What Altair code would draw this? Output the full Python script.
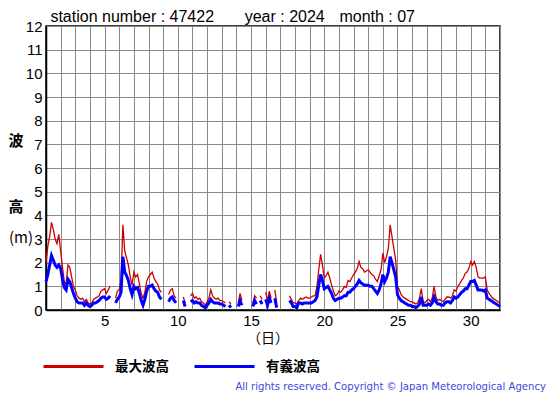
import altair as alt
import pandas as pd

# 3-hourly readings, day 1 00h ... day 31 21h, then Aug 1 00h
max_wave = [
    2.0, 2.7, 3.1, 3.7, 3.4, 3.0, 2.8, 3.2,        # 1
    2.5, 1.8, 1.2, 1.1, 1.9, 1.8, 1.4, 1.0,        # 2
    0.85, 0.6, 0.5, 0.45, 0.5, 0.35, 0.45, 0.3,    # 3
    0.25, 0.3, 0.45, 0.5, 0.55, 0.6, 0.8, 0.85,    # 4
    0.9, 0.7, 0.85, 1.0, None, None, 0.5, 0.8,     # 5
    0.85, 1.3, 3.6, 2.5, 2.2, 1.9, 1.4, 1.05,      # 6
    1.6, 1.4, 1.5, 1.1, 0.7, 0.5, 0.75, 1.2,       # 7
    1.4, 1.5, 1.6, 1.35, 1.2, 1.1, 0.85, 0.75,     # 8
    None, None, None, 0.65, 0.85, 0.9, 0.6, 0.5,   # 9
    None, None, None, 0.55, 0.3, None, None, 0.6,  # 10
    0.7, 0.5, 0.55, 0.45, 0.5, 0.35, 0.3, 0.2,     # 11
    0.35, 0.5, 0.85, 0.6, 0.5, 0.45, 0.5, 0.4,     # 12
    0.4, 0.35, 0.3, None, 0.35, 0.25, None, None,  # 13
    None, 0.3, 0.7, 0.4, None, None, None, None,   # 14
    None, 0.3, 0.6, 0.5, None, 0.6, 0.45, None,    # 15
    0.75, 0.4, 0.8, 0.5, None, 0.85, 0.3, None,    # 16
    None, None, None, None, None, 0.6, 0.45, 0.3,  # 17
    0.3, 0.25, 0.4, 0.5, 0.45, 0.5, 0.55, 0.5,     # 18
    0.5, 0.55, 0.6, 0.6, 1.0, 1.7, 2.35, 1.9,      # 19
    1.35, 1.45, 1.6, 1.35, 1.05, 0.8, 0.6, 0.65,   # 20
    0.8, 0.75, 0.85, 1.0, 0.95, 1.25, 1.2, 1.35,   # 21
    1.5, 1.6, 1.75, 2.05, 1.8, 1.75, 1.6, 1.65,    # 22
    1.7, 1.6, 1.5, 1.45, 1.3, 1.2, 1.45, 1.7,      # 23
    2.4, 2.0, 2.25, 2.6, 3.6, 3.1, 2.6, 2.1,       # 24
    1.0, 0.85, 0.65, 0.55, 0.5, 0.45, 0.4, 0.35,   # 25
    0.35, 0.3, 0.25, 0.3, 0.5, 0.9, 0.35, 0.3,     # 26
    0.4, 0.45, 0.35, 0.5, 1.0, 0.55, 0.4, 0.45,    # 27
    0.4, 0.35, 0.45, 0.55, 0.55, 0.5, 0.6, 0.85,   # 28
    0.8, 1.0, 1.1, 1.25, 1.35, 1.55, 1.6, 1.75,    # 29
    2.05, 1.9, 2.05, 1.8, 1.4, 1.35, 1.35, 1.35,   # 30
    1.4, 0.85, 0.7, 0.6, 0.5, 0.45, 0.4, 0.35,     # 31
    0.3,
]
sig_wave = [
    1.2, 1.5, 1.9, 2.3, 2.1, 1.9, 1.8, 1.9,
    1.75, 1.3, 0.95, 0.85, 1.3, 1.2, 0.95, 0.7,
    0.5, 0.35, 0.3, 0.3, 0.3, 0.2, 0.3, 0.2,
    0.15, 0.2, 0.3, 0.3, 0.35, 0.4, 0.5, 0.55,
    0.55, 0.45, 0.5, 0.6, None, None, 0.3, 0.45,
    0.55, 0.75, 2.25, 1.6, 1.45, 1.25, 0.9, 0.65,
    1.0, 0.9, 0.95, 0.7, 0.4, 0.2, 0.45, 0.8,
    1.0, 1.0, 1.05, 0.9, 0.8, 0.75, 0.55, 0.45,
    None, None, None, 0.35, 0.5, 0.55, 0.4, 0.3,
    None, None, None, 0.4, 0.15, None, None, 0.35,
    0.4, 0.3, 0.35, 0.3, 0.3, 0.2, 0.15, 0.1,
    0.2, 0.3, 0.45, 0.35, 0.3, 0.3, 0.3, 0.25,
    0.25, 0.2, 0.15, None, 0.2, 0.1, None, None,
    None, 0.15, 0.4, 0.2, None, None, None, None,
    None, 0.15, 0.4, 0.25, None, 0.4, 0.25, None,
    0.45, 0.2, 0.5, 0.3, None, 0.5, 0.1, None,
    None, None, None, None, None, 0.4, 0.3, 0.15,
    0.15, 0.1, 0.3, 0.3, 0.25, 0.3, 0.3, 0.3,
    0.3, 0.3, 0.35, 0.4, 0.55, 1.05, 1.5, 1.25,
    0.9, 0.95, 1.0, 0.85, 0.7, 0.5, 0.4, 0.45,
    0.5, 0.5, 0.55, 0.6, 0.6, 0.75, 0.75, 0.85,
    0.9, 1.0, 1.1, 1.25, 1.15, 1.1, 1.05, 1.05,
    1.05, 1.0, 1.0, 0.9, 0.8, 0.7, 0.85, 1.1,
    1.5, 1.2, 1.35, 1.6, 2.25, 2.0, 1.7, 1.4,
    0.65, 0.5, 0.4, 0.35, 0.3, 0.25, 0.2, 0.2,
    0.15, 0.15, 0.1, 0.15, 0.25, 0.55, 0.2, 0.2,
    0.2, 0.25, 0.2, 0.3, 0.55, 0.35, 0.25, 0.25,
    0.2, 0.2, 0.3, 0.35, 0.35, 0.3, 0.4, 0.55,
    0.5, 0.55, 0.65, 0.75, 0.8, 0.9, 0.9, 1.05,
    1.2, 1.2, 1.25, 1.05, 0.85, 0.85, 0.85, 0.8,
    0.85, 0.5, 0.45, 0.4, 0.35, 0.3, 0.25, 0.2,
    0.15,
]
series_names = ["最大波高", "有義波高"]
series_colors = ["#cc0000", "#0000ff"]
y_ticks = list(range(0, 13))
x_ticks = list(range(1, 33))
title_station = "station number : 47422"
title_year = "year : 2024"
title_month = "month : 07"
copyright_text = "All rights reserved. Copyright © Japan Meteorological Agency"

steps_per_day = 8
rows = []
for i, v in enumerate(max_wave):
    rows.append({"t": 1 + i / steps_per_day, "h": v, "s": series_names[0]})
for i, v in enumerate(sig_wave):
    rows.append({"t": 1 + i / steps_per_day, "h": v, "s": series_names[1]})
df = pd.DataFrame(rows)

FONT = "Liberation Sans"
JP = "Noto Sans CJK JP"

x_enc = alt.X("t:Q", scale=alt.Scale(domain=[1, 32], nice=False, zero=False),
              axis=alt.Axis(values=x_ticks, labelExpr="datum.value % 5 == 0 ? datum.label : ''",
                            title=None, grid=True, ticks=False, labelFontSize=15, labelFont=FONT,
                            labelColor="#000", labelPadding=3, domainColor="#000", domainWidth=1.5,
                            gridColor="#888", gridWidth=1, labelFlush=False))
y_enc = alt.Y("h:Q", scale=alt.Scale(domain=[0, 12], nice=False),
              axis=alt.Axis(values=y_ticks, title=None, grid=True, ticks=False, labelFontSize=15,
                            labelFont=FONT, labelColor="#000", labelPadding=4, domainColor="#000",
                            domainWidth=1.5, gridColor="#888", gridWidth=1))
color_enc = alt.Color("s:N", scale=alt.Scale(domain=series_names, range=series_colors),
                      legend=alt.Legend(orient="none", legendX=-4, legendY=309, direction="horizontal",
                                        title=None, symbolType="stroke", symbolSize=3600,
                                        symbolStrokeWidth=3, labelFontSize=13.5, labelFont=JP,
                                        labelFontWeight="bold", labelColor="#000", labelOffset=10,
                                        columnPadding=19, padding=0))

red = alt.Chart(df).transform_filter(alt.datum.s == series_names[0]).mark_line(
    strokeWidth=1.3, invalid="break-paths-show-domains").encode(x=x_enc, y=y_enc, color=color_enc)
blue = alt.Chart(df).transform_filter(alt.datum.s == series_names[1]).mark_line(
    strokeWidth=3, invalid="break-paths-show-domains").encode(x=x_enc, y=y_enc, color=color_enc)


def label(text, x, y, size=15, font=FONT, align="left", color="#000", weight="normal",
          baseline="middle"):
    return alt.Chart(alt.Data(values=[{}])).mark_text(
        text=text, fontSize=size, font=font, align=align, baseline=baseline, color=color,
        fontWeight=weight).encode(x=alt.value(x), y=alt.value(y))


texts = [
    label(title_station, 4.4, -4.5, size=16, baseline="alphabetic"),
    label(title_year, 198.7, -4.5, size=16, baseline="alphabetic"),
    label(title_month, 293.4, -4.5, size=16, baseline="alphabetic"),
    label("波", -30, 115, size=15, font=JP, align="center", weight="bold"),
    label("高", -30, 181, size=15, font=JP, align="center", weight="bold"),
    label("(m)", -37, 212, size=15, font=JP, align="left"),
    label("（日）", 222, 313, size=14, font=JP, align="center"),
    label(copyright_text, 500, 361, size=10.1, font="DejaVu Sans", align="right",
          color="#4646dc"),
]

chart = alt.layer(red, blue, *texts).properties(
    width=454, height=284,
    autosize=alt.AutoSizeParams(type="none"),
    padding={"left": 38, "top": 18, "right": 47, "bottom": 82},
).configure_view(stroke="#000", strokeWidth=1.5)

chart.save("out.html", embed_options={"renderer": "svg", "actions": False})
